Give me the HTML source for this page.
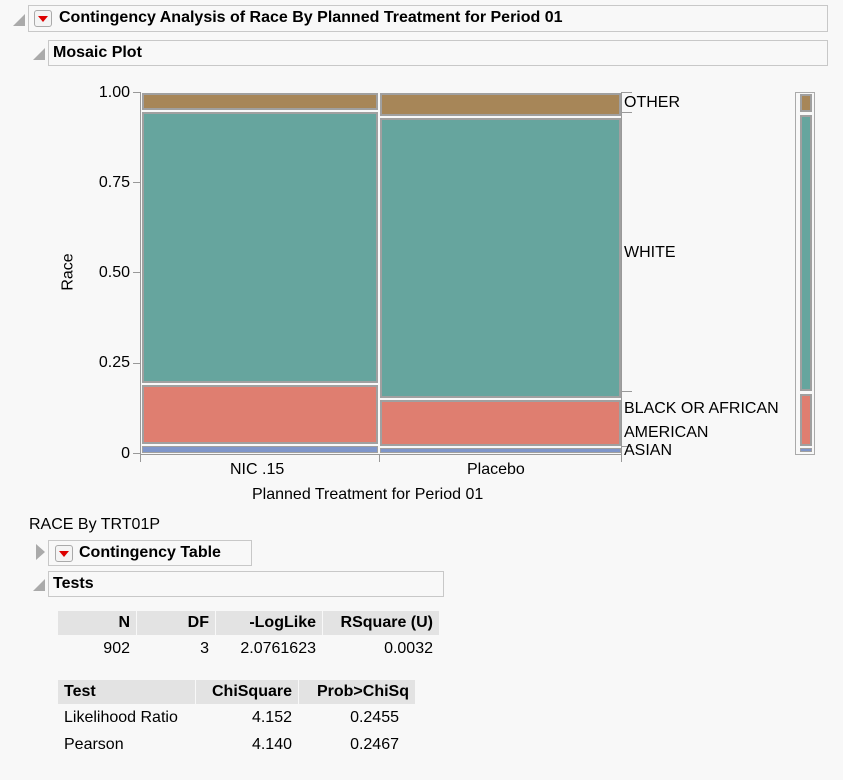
<!DOCTYPE html>
<html><head><style>
body{margin:0;width:843px;height:780px;background:#f8f8f8;font-family:"Liberation Sans",sans-serif;position:relative;overflow:hidden;color:#000}
.a{position:absolute}
.hdr{position:absolute;border:1px solid #c8c8c8;background:#f8f8f8;font-weight:bold;font-size:16px;line-height:24px;box-sizing:border-box}
.tri{position:absolute;width:0;height:0;border-left:12px solid transparent;border-bottom:12px solid #aaa}
.btn{position:absolute;width:16px;height:15px;border:1px solid #aaa;border-radius:3px;background:#f4f4f4}
.btn:after{content:"";position:absolute;left:3px;top:5px;border-left:5px solid transparent;border-right:5px solid transparent;border-top:6px solid #d00}
.c{position:absolute;box-sizing:border-box;border:2px solid #a0a0a0}
.o{background:#a78658}.w{background:#66a59e}.b{background:#df7e70}.s{background:#7f96c9}
.t{position:absolute;font-size:16px}
.tk{position:absolute;background:#999}
td{padding:0 6px;font-size:16px;height:26px}
th{background:#e3e3e3;font-size:16px;padding:0 6px;height:24px}
</style></head><body>
<div class="tri" style="left:13px;top:14px"></div>
<div class="hdr" style="left:28px;top:5px;width:800px;height:27px;padding-left:30px">Contingency Analysis of Race By Planned Treatment for Period 01</div>
<div class="btn" style="left:34px;top:10px"></div>
<div class="tri" style="left:33px;top:48px"></div>
<div class="hdr" style="left:48px;top:40px;width:780px;height:26px;padding-left:4px">Mosaic Plot</div>

<div class="tk" style="left:140px;top:92px;width:1px;height:370px"></div>
<div class="tk" style="left:140px;top:454px;width:482px;height:1px"></div>
<div class="tk" style="left:621px;top:92px;width:1px;height:370px"></div>
<div class="tk" style="left:379px;top:454px;width:1px;height:8px"></div>
<div class="tk" style="left:133px;top:92px;width:8px;height:1px"></div>
<div class="tk" style="left:133px;top:182px;width:8px;height:1px"></div>
<div class="tk" style="left:133px;top:272px;width:8px;height:1px"></div>
<div class="tk" style="left:133px;top:363px;width:8px;height:1px"></div>
<div class="tk" style="left:133px;top:453px;width:8px;height:1px"></div>
<div class="t" style="left:90px;top:84px;width:40px;text-align:right">1.00</div>
<div class="t" style="left:90px;top:174px;width:40px;text-align:right">0.75</div>
<div class="t" style="left:90px;top:264px;width:40px;text-align:right">0.50</div>
<div class="t" style="left:90px;top:354px;width:40px;text-align:right">0.25</div>
<div class="t" style="left:90px;top:445px;width:40px;text-align:right">0</div>
<div class="t" style="left:50px;top:263px;transform:rotate(-90deg);transform-origin:center">Race</div>

<div class="c o" style="left:142px;top:93px;width:236px;height:17px"></div>
<div class="c w" style="left:142px;top:112px;width:236px;height:271px"></div>
<div class="c b" style="left:142px;top:385px;width:236px;height:59px"></div>
<div class="c s" style="left:142px;top:446px;width:236px;height:7px;border-width:1px"></div>
<div class="c o" style="left:380px;top:93px;width:241px;height:23px"></div>
<div class="c w" style="left:380px;top:118px;width:241px;height:280px"></div>
<div class="c b" style="left:380px;top:400px;width:241px;height:46px"></div>
<div class="c s" style="left:380px;top:448px;width:241px;height:5px;border-width:1px"></div>

<div class="t" style="left:230px;top:461px">NIC .15</div>
<div class="t" style="left:467px;top:461px">Placebo</div>
<div class="t" style="left:252px;top:486px">Planned Treatment for Period 01</div>

<div class="tk" style="left:621px;top:92px;width:11px;height:1px"></div>
<div class="tk" style="left:621px;top:112px;width:11px;height:1px"></div>
<div class="tk" style="left:621px;top:391px;width:11px;height:1px"></div>
<div class="tk" style="left:621px;top:446px;width:11px;height:1px"></div>
<div class="t" style="left:624px;top:94px">OTHER</div>
<div class="t" style="left:624px;top:244px">WHITE</div>
<div class="t" style="left:624px;top:397px;line-height:24px">BLACK OR AFRICAN<br>AMERICAN</div>
<div class="t" style="left:624px;top:442px">ASIAN</div>

<div class="a" style="left:795px;top:92px;width:20px;height:363px;border:1px solid #aaa;box-sizing:border-box"></div>
<div class="c o" style="left:800px;top:94px;width:12px;height:18px"></div>
<div class="c w" style="left:800px;top:115px;width:12px;height:276px"></div>
<div class="c b" style="left:800px;top:394px;width:12px;height:52px"></div>
<div class="c s" style="left:800px;top:448px;width:12px;height:4px;border-width:1px"></div>

<div class="t" style="left:29px;top:516px">RACE By TRT01P</div>
<div class="a" style="left:36px;top:544px;width:0;height:0;border-top:8px solid transparent;border-bottom:8px solid transparent;border-left:9px solid #aaa"></div>
<div class="hdr" style="left:48px;top:540px;width:204px;height:26px;padding-left:30px">Contingency Table</div>
<div class="btn" style="left:55px;top:545px"></div>
<div class="tri" style="left:33px;top:579px"></div>
<div class="hdr" style="left:48px;top:571px;width:396px;height:26px;padding-left:4px">Tests</div>

<table class="a" style="left:57px;top:611px;border-collapse:separate;border-spacing:1px 0" cellspacing="0">
<tr><th style="width:66px;text-align:right">N</th><th style="width:66px;text-align:right">DF</th><th style="width:94px;text-align:right">-LogLike</th><th style="width:104px;text-align:right">RSquare (U)</th></tr>
<tr><td style="text-align:right;height:28px">902</td><td style="text-align:right">3</td><td style="text-align:right">2.0761623</td><td style="text-align:right">0.0032</td></tr>
</table>
<table class="a" style="left:57px;top:680px;border-collapse:separate;border-spacing:1px 0" cellspacing="0">
<tr><th style="width:125px;text-align:left">Test</th><th style="width:90px;text-align:right">ChiSquare</th><th style="width:104px;text-align:right">Prob&gt;ChiSq</th></tr>
<tr><td style="height:28px">Likelihood Ratio</td><td style="text-align:right">4.152</td><td style="text-align:right;padding-right:16px">0.2455</td></tr>
<tr><td>Pearson</td><td style="text-align:right">4.140</td><td style="text-align:right;padding-right:16px">0.2467</td></tr>
</table>
</body></html>
